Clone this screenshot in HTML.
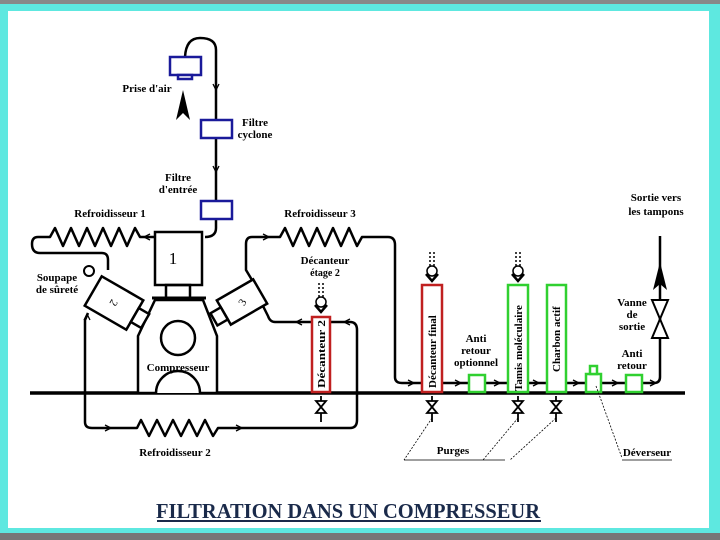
<!DOCTYPE html>
<html><head><meta charset="utf-8"><style>
html,body{margin:0;padding:0;width:720px;height:540px;overflow:hidden;background:#7a7a7a}
svg{display:block}
text{font-family:"Liberation Serif",serif;fill:#000}
</style></head><body>
<svg width="720" height="540" viewBox="0 0 720 540" xmlns="http://www.w3.org/2000/svg">
<defs>
<g id="d" stroke="#000" stroke-width="1.5" fill="none"><path d="M-2,0 L-2,14 M2,0 L2,14" stroke-dasharray="2,2"/><circle cx="0" cy="19" r="5"/><path d="M-6,22 L0,29 L6,22" stroke-width="2.5"/></g>
<g id="v" stroke="#000" stroke-width="1.8" fill="#fff"><path d="M0,0 L0,26"/><path d="M-5,5 L5,5 L-5,17 L5,17 Z"/></g>
</defs>
<rect x="0" y="0" width="720" height="4" fill="#888"/>
<rect x="0" y="4" width="720" height="530" fill="#5ee8e0"/>
<rect x="0" y="533" width="720" height="7" fill="#777"/>
<rect x="8" y="11" width="701" height="517" fill="#fff"/>
<g fill="none" stroke="#000" stroke-width="2.5" stroke-linejoin="round">
<path d="M185,57 Q186,38 200,38 Q216,38 216,50 L216,228 Q216,237 205,237"/>
<path d="M30,393 L685,393" stroke-width="3.5"/>
<path d="M155,237 L140,237 L135,228 L127,246 L119,228 L111,246 L103,228 L95,246 L87,228 L79,246 L71,228 L63,246 L55,228 L50,237 L38,237 Q32,237 32,244 Q32,253 40,253 L102,253 Q108,253 108,260 L108,270"/>
<path d="M88,313 L85,320 L85,422 Q85,428 92,428 L137,428 L141,420 L149,436 L157,420 L165,436 L173,420 L181,436 L189,420 L197,436 L205,420 L213,436 L218,428 L350,428 Q357,428 357,420 L357,330 Q357,322 350,322 L275,322 Q270,322 268,316 L263,306"/>
<path d="M252,280 L246,270 L246,244 Q246,237 252,237 L280,237 L285,228 L293,246 L301,228 L309,246 L317,228 L325,246 L333,228 L341,246 L349,228 L357,246 L362,237 L388,237 Q395,237 395,245 L395,377 Q395,383 402,383 L654,383 Q660,383 660,377 L660,236"/>
</g>
<g stroke="#000" stroke-width="1.3" fill="none">
<path d="M213,84 L216,90 L219,84"/><path d="M213,166 L216,172 L219,166"/>
<path d="M150,234 L144,237 L150,240"/>
<path d="M263,234 L269,237 L263,240"/>
<path d="M84,320 L87,314 L90,320"/>
<path d="M105,425 L111,428 L105,431"/><path d="M236,425 L242,428 L236,431"/>
<path d="M302,319 L296,322 L302,325"/><path d="M350,319 L344,322 L350,325"/>
<path d="M408,380 L414,383 L408,386"/><path d="M455,380 L461,383 L455,386"/><path d="M494,380 L500,383 L494,386"/><path d="M533,380 L539,383 L533,386"/><path d="M573,380 L579,383 L573,386"/><path d="M612,380 L618,383 L612,386"/><path d="M650,380 L656,383 L650,386"/>
</g>
<path d="M183,90 L176,120 L183,113 L190,120 Z" fill="#000"/>
<path d="M660,262 L653,290 L660,284 L667,290 Z" fill="#000"/>
<g fill="#fff" stroke="#1a1a9a" stroke-width="2.5">
<rect x="170" y="57" width="31" height="18"/><rect x="178" y="75" width="14" height="4"/>
<rect x="201" y="120" width="31" height="18"/>
<rect x="201" y="201" width="31" height="18"/>
</g>
<g fill="#fff" stroke="#000" stroke-width="2.5">
<rect x="155" y="232" width="47" height="53"/>
<rect x="166" y="285" width="24" height="13" fill="none"/>
<path d="M155,300 L203,300 L217,336 L217,393 L138,393 L138,336 Z"/>
<path d="M152,298 L206,298" stroke-width="3"/>
<circle cx="178" cy="338" r="17"/>
<path d="M156,393 A22,22 0 0 1 200,393"/>
<g transform="translate(114,303) rotate(30)"><rect x="-24" y="-17" width="48" height="34"/><rect x="24" y="-8" width="12" height="16"/></g>
<g transform="translate(242,302) rotate(-30)"><rect x="-21" y="-14" width="42" height="28"/><rect x="-33" y="-6" width="12" height="14"/></g>
<circle cx="89" cy="271" r="5" stroke-width="2"/>
</g>
<text x="173" y="264" font-size="17" text-anchor="middle">1</text>
<text x="114" y="307" font-size="11" text-anchor="middle" transform="rotate(120 114 303)">2</text>
<text x="242" y="306" font-size="11" text-anchor="middle" transform="rotate(-60 242 302)">3</text>
<g fill="#fff" stroke-width="2.5">
<rect x="312" y="317" width="18" height="75" stroke="#c02020"/>
<rect x="422" y="285" width="20" height="107" stroke="#c02020"/>
<rect x="508" y="285" width="20" height="107" stroke="#30d030"/>
<rect x="547" y="285" width="19" height="107" stroke="#30d030"/>
<rect x="469" y="375" width="16" height="17" stroke="#30d030"/>
<rect x="586" y="374" width="15" height="18" stroke="#30d030"/>
<rect x="590" y="366" width="7" height="8" stroke="#30d030"/>
<rect x="626" y="375" width="16" height="17" stroke="#30d030"/>
</g>
<g font-size="11" font-weight="bold">
<text transform="translate(325,388) rotate(-90)" textLength="68" lengthAdjust="spacingAndGlyphs">Décanteur 2</text>
<text transform="translate(436,388) rotate(-90)">Décanteur final</text>
<text transform="translate(522,391) rotate(-90)">Tamis moléculaire</text>
<text transform="translate(560,372) rotate(-90)">Charbon actif</text>
</g>
<use href="#d" x="321" y="283"/>
<use href="#d" x="432" y="252"/><use href="#d" x="518" y="252"/>
<use href="#v" x="321" y="396"/><use href="#v" x="432" y="396"/><use href="#v" x="518" y="396"/><use href="#v" x="556" y="396"/>
<path d="M652,300 L668,300 L652,338 L668,338 Z" stroke="#000" stroke-width="2" fill="#fff"/>
<g stroke="#000" stroke-width="0.8" fill="none">
<path d="M432,418 L404,460 M518,418 L483,460 M556,418 L510,460 M596,386 L622,458" stroke-dasharray="2,1.5"/>
<path d="M404,460 L505,460 M622,460 L672,460"/>
</g>
<g font-size="11" font-weight="bold" text-anchor="middle">
<text x="147" y="92">Prise d'air</text>
<text x="255" y="126">Filtre</text><text x="255" y="138">cyclone</text>
<text x="178" y="181">Filtre</text><text x="178" y="193">d'entrée</text>
<text x="110" y="217">Refroidisseur 1</text>
<text x="320" y="217">Refroidisseur 3</text>
<text x="325" y="264">Décanteur</text><text x="325" y="276" font-size="10">étage 2</text>
<text x="57" y="281">Soupape</text><text x="57" y="293">de sûreté</text>
<text x="178" y="371">Compresseur</text>
<text x="175" y="456">Refroidisseur 2</text>
<text x="476" y="342">Anti</text><text x="476" y="354">retour</text><text x="476" y="366">optionnel</text>
<text x="632" y="306">Vanne</text><text x="632" y="318">de</text><text x="632" y="330">sortie</text>
<text x="632" y="357">Anti</text><text x="632" y="369">retour</text>
<text x="656" y="201">Sortie vers</text><text x="656" y="215">les tampons</text>
<text x="453" y="454">Purges</text>
<text x="647" y="456">Déverseur</text>
</g>
<text x="348" y="518" font-size="21" font-weight="bold" text-anchor="middle" style="fill:#1a2a4a" textLength="384" lengthAdjust="spacingAndGlyphs">FILTRATION DANS UN COMPRESSEUR</text>
<rect x="157" y="520" width="384" height="2" fill="#1a2a4a"/>
</svg>
</body></html>
